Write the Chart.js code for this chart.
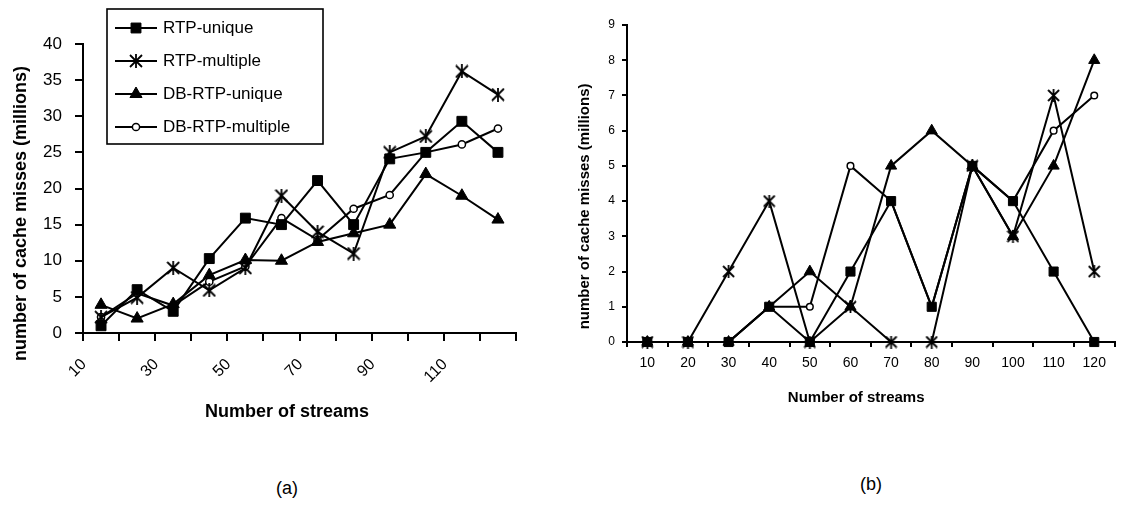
<!DOCTYPE html>
<html>
<head>
<meta charset="utf-8">
<script src="https://cdn.jsdelivr.net/npm/chart.js@4.4.1/dist/chart.umd.min.js"></script>
<style>
  body { margin:0; background:#fff; }
  #wrap { position:relative; width:1122px; height:506px; overflow:hidden; background:#fff; }
  canvas { position:absolute; top:0; }
  .cap { position:absolute; font:18px "Liberation Sans", Arial, sans-serif; color:#000; transform:translate(-50%,-50%); }
</style>
</head>
<body>
<div id="wrap">
  <canvas id="chartA" width="560" height="440" style="left:0"></canvas>
  <canvas id="chartB" width="562" height="440" style="left:560px"></canvas>
  <div class="cap" style="left:287px;top:488px">(a)</div>
  <div class="cap" style="left:871px;top:484px">(b)</div>
</div>
<script>
// categorias (número de streams)
const streams = ['10', '20', '30', '40', '50', '60', '70', '80', '90', '100', '110', '120'];
const seriesNames = ['RTP-unique', 'RTP-multiple', 'DB-RTP-unique', 'DB-RTP-multiple'];

// (a) valores em milhões
const rtpUniqueA   = [1, 6, 3, 10.3, 15.9, 15, 21.1, 15, 24.1, 25, 29.3, 25];
const rtpMultipleA = [2.2, 4.9, 9, 5.9, 9, 19, 14, 11, 25, 27.2, 36.2, 33];
const dbUniqueA    = [3.9, 2, 4, 8, 10.1, 10, 12.6, 13.8, 15, 22, 19, 15.7];
const dbMultipleA  = [2.2, 5.5, 3.8, 7.1, 9.2, 15.9, 12.9, 17.2, 19.1, 25, 26.1, 28.3];

// (b) valores em milhões
const rtpUniqueB   = [0, 0, 0, 1, 0, 2, 4, 1, 5, 4, 2, 0];
const rtpMultipleB = [0, 0, 2, 4, 0, 1, 0, 0, 5, 3, 7, 2];
const dbUniqueB    = [0, 0, 0, 1, 2, 1, 5, 6, 5, 3, 5, 8];
const dbMultipleB  = [0, 0, 0, 1, 1, 5, 4, 1, 5, 4, 6, 7];

const FONT = '"Liberation Sans", Arial, sans-serif';
const pad = n => '\u00a0'.repeat(n); // empurra o título para fora do centro

// asterisco estilo Excel (X + barra vertical)
function makeAsterisk(size, lw) {
  const c = document.createElement('canvas');
  c.width = c.height = size + 2;
  const g = c.getContext('2d');
  const m = (size + 2) / 2, r = size / 2;
  g.strokeStyle = '#000';
  g.lineWidth = lw;
  g.beginPath();
  g.moveTo(m - r, m - r); g.lineTo(m + r, m + r);
  g.moveTo(m + r, m - r); g.lineTo(m - r, m + r);
  g.moveTo(m, m - r - 1); g.lineTo(m, m + r + 1);
  g.stroke();
  return c;
}

function makeSets(values, big) {
  const k = big ? 1 : 0.92;
  const styles = [
    { pointStyle: 'rect', pointRadius: 7 * k, bg: '#000' },
    { pointStyle: makeAsterisk(big ? 12 : 11, 1.8), pointRadius: 6 * k, bg: '#000' },
    { pointStyle: 'triangle', pointRadius: 7 * k, bg: '#000' },
    { pointStyle: 'circle', pointRadius: 3.6 * k, bg: '#fff' }
  ];
  return values.map((data, i) => ({
    label: seriesNames[i],
    data,
    borderColor: '#000',
    borderWidth: 2,
    tension: 0,
    clip: false,
    pointStyle: styles[i].pointStyle,
    pointRadius: styles[i].pointRadius,
    pointBackgroundColor: styles[i].bg,
    pointBorderColor: '#000',
    pointBorderWidth: i === 3 ? 1.5 : 1
  }));
}

// legenda com moldura, dentro da área do gráfico (a)
const boxLegend = {
  id: 'boxLegend',
  afterDraw(chart) {
    const ctx = chart.ctx;
    const x0 = chart.chartArea.left + 24, y0 = 9;
    ctx.save();
    ctx.fillStyle = '#fff';
    ctx.fillRect(x0, y0, 216, 135);
    ctx.strokeStyle = '#000';
    ctx.lineWidth = 1.6;
    ctx.strokeRect(x0, y0, 216, 135);
    chart.data.datasets.forEach((ds, i) => {
      const y = y0 + 19 + i * 33;
      ctx.strokeStyle = '#000';
      ctx.lineWidth = ds.borderWidth;
      ctx.beginPath();
      ctx.moveTo(x0 + 8, y);
      ctx.lineTo(x0 + 50, y);
      ctx.stroke();
      ctx.fillStyle = ds.pointBackgroundColor;
      ctx.lineWidth = ds.pointBorderWidth;
      Chart.helpers.drawPoint(ctx, {
        pointStyle: ds.pointStyle, radius: ds.pointRadius,
        borderWidth: ds.pointBorderWidth, rotation: 0
      }, x0 + 29, y);
      ctx.fillStyle = '#000';
      ctx.font = '17px ' + FONT;
      ctx.textBaseline = 'middle';
      ctx.fillText(ds.label, x0 + 56, y);
    });
    ctx.restore();
  }
};

function axisX(o) {
  return {
    type: 'category',
    offset: true,
    grid: { display: true, offset: true, drawOnChartArea: false, drawTicks: true, tickLength: o.tick, color: '#000', lineWidth: 2 },
    border: { display: true, color: '#000', width: 2 },
    ticks: Object.assign({ autoSkip: false, color: '#000', font: { family: FONT, size: o.tickSize } }, o.ticks),
    title: { display: true, text: 'Number of streams' + pad(o.shift), color: '#000', font: { family: FONT, size: o.titleSize, weight: 'bold' }, padding: { top: 0, bottom: o.titlePad } },
    afterFit: s => { s.height = o.height; }
  };
}

function axisY(o) {
  return {
    min: 0,
    max: o.max,
    grid: { display: true, drawOnChartArea: false, drawTicks: true, tickLength: o.tick, color: '#000', lineWidth: 2 },
    border: { display: true, color: '#000', width: 2 },
    ticks: { stepSize: o.step, padding: o.pad, color: '#000', font: { family: FONT, size: o.tickSize } },
    title: { display: true, text: 'number of cache misses (millions)' + pad(o.shift), color: '#000', font: { family: FONT, size: o.titleSize, weight: 'bold' }, padding: { top: o.titlePad, bottom: 0 } },
    afterFit: s => { s.width = o.width; }
  };
}

Chart.defaults.font.family = FONT;

new Chart(document.getElementById('chartA'), {
  type: 'line',
  data: { labels: streams, datasets: makeSets([rtpUniqueA, rtpMultipleA, dbUniqueA, dbMultipleA], true) },
  options: {
    responsive: false,
    animation: false,
    layout: { padding: { top: 44, right: 44, left: 0, bottom: 0 } },
    plugins: { legend: { display: false }, tooltip: { enabled: false } },
    scales: {
      x: axisX({
        tick: 8, tickSize: 16, titleSize: 18, titlePad: 17, height: 107, shift: 5,
        ticks: { minRotation: 45, maxRotation: 45, labelOffset: -17, padding: 14,
                 callback: (v, i) => i % 2 === 0 ? streams[i] : '' }
      }),
      y: axisY({ max: 40, step: 5, tick: 8, pad: 13, tickSize: 17, titleSize: 18, titlePad: 10, width: 83, shift: 10 })
    }
  },
  plugins: [boxLegend]
});

new Chart(document.getElementById('chartB'), {
  type: 'line',
  data: { labels: streams, datasets: makeSets([rtpUniqueB, rtpMultipleB, dbUniqueB, dbMultipleB], false) },
  options: {
    responsive: false,
    animation: false,
    layout: { padding: { top: 25, right: 1, left: 0, bottom: 0 } },
    plugins: { legend: { display: false }, tooltip: { enabled: false } },
    scales: {
      x: axisX({
        tick: 5, tickSize: 14, titleSize: 15, titlePad: 33, height: 98, shift: 7,
        ticks: { maxRotation: 0, minRotation: 0, padding: 8 }
      }),
      y: axisY({ max: 9, step: 1, tick: 5, pad: 7, tickSize: 12, titleSize: 15, titlePad: 16, width: 67, shift: 11 })
    }
  }
});
</script>
</body>
</html>
